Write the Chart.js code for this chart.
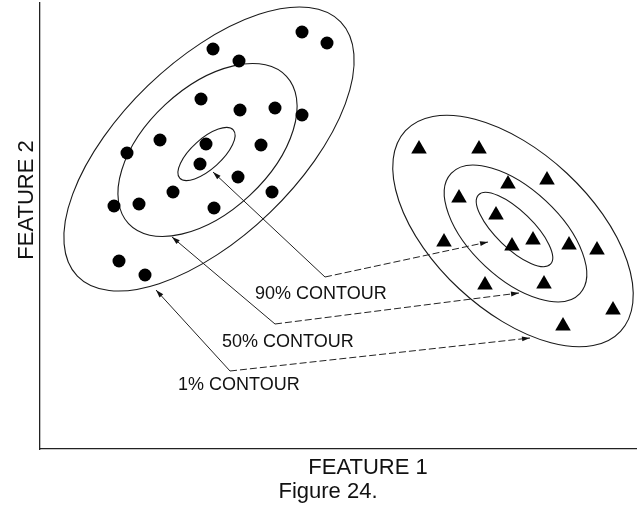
<!DOCTYPE html>
<html>
<head>
<meta charset="utf-8">
<script src="https://cdn.jsdelivr.net/npm/chart.js@4/dist/chart.umd.min.js"></script>
<style>
  html, body { margin: 0; padding: 0; background: #fff; }
  #wrap { width: 638px; height: 506px; }
</style>
</head>
<body>
<div id="wrap"><canvas id="chart" width="638" height="506"></canvas></div>
<script>
// class 1 (circles)
const circleX = [262, 287, 173, 199, 161, 200, 235, 262, 120, 166, 221, 87, 160, 198, 133, 232, 74, 99, 174, 79, 105];
const circleY = [417, 406, 400, 388, 350, 339, 341, 334, 309, 305, 304, 296, 285, 272, 257, 257, 243, 245, 241, 188, 174];

// class 2 (triangles)
const triangleX = [379, 439, 468, 507, 419, 456, 404, 472, 493, 529, 557, 445, 504, 573, 523];
const triangleY = [300, 300, 265, 269, 251, 234, 207, 203, 209, 204, 199, 164, 165, 139, 123];

// contour ellipses: centre, semi-axes, tilt (deg)
const contourX = [169, 167.5, 166.5, 473, 475.5, 474.5];
const contourY = [300, 299, 295, 218, 215.5, 219.5];
const contourA = [183, 108, 36, 147, 88, 50];
const contourB = [88, 62, 15, 79, 44.5, 18.5];
const contourAngle = [-44, -43, -42, 43, 43, 44];

// callout arrows: left tip, elbow, right tip
const arrow90X = [173, 285, 448];
const arrow90Y = [277, 172, 207];
const arrow50X = [132, 235, 479];
const arrow50Y = [212, 125, 156];
const arrow1X = [116, 190, 490];
const arrow1Y = [159, 78, 111];

const labelText = ['90% CONTOUR', '50% CONTOUR', '1% CONTOUR'];
const labelX = [215, 182, 138];
const labelY = [150, 102, 59];

const pts = (xs, ys) => xs.map((v, i) => ({ x: v, y: ys[i] }));

function arrowSet(xs, ys) {
  return {
    data: pts(xs, ys),
    showLine: true,
    pointRadius: 0,
    borderWidth: 1,
    borderColor: '#222',
    segment: { borderDash: (c) => (c.p0DataIndex === 1 ? [7, 3] : []) }
  };
}

function head(ctx, fx, fy, tx, ty) {
  const ang = Math.atan2(ty - fy, tx - fx);
  ctx.save();
  ctx.translate(tx, ty);
  ctx.rotate(ang);
  ctx.beginPath();
  ctx.moveTo(0, 0);
  ctx.lineTo(-8, -2.5);
  ctx.lineTo(-8, 2.5);
  ctx.closePath();
  ctx.fill();
  ctx.restore();
}

const extras = {
  id: 'extras',
  beforeDatasetsDraw(chart) {
    const { ctx, scales: { x, y } } = chart;
    const unit = x.getPixelForValue(1) - x.getPixelForValue(0);
    ctx.save();
    ctx.strokeStyle = '#1a1a1a';
    ctx.lineWidth = 1.1;
    contourX.forEach((cx, i) => {
      ctx.beginPath();
      ctx.ellipse(x.getPixelForValue(cx), y.getPixelForValue(contourY[i]),
        contourA[i] * unit, contourB[i] * unit, contourAngle[i] * Math.PI / 180, 0, Math.PI * 2);
      ctx.stroke();
    });
    ctx.restore();
  },
  afterDatasetsDraw(chart) {
    const { ctx, scales: { x, y } } = chart;
    ctx.save();
    ctx.fillStyle = '#111';
    [[arrow90X, arrow90Y], [arrow50X, arrow50Y], [arrow1X, arrow1Y]].forEach(([xs, ys]) => {
      const px = xs.map((v) => x.getPixelForValue(v));
      const py = ys.map((v) => y.getPixelForValue(v));
      const n = px.length - 1;
      head(ctx, px[1], py[1], px[0], py[0]);
      head(ctx, px[n - 1], py[n - 1], px[n], py[n]);
    });

    ctx.font = '18px "Liberation Sans", Arial, sans-serif';
    ctx.textAlign = 'left';
    ctx.textBaseline = 'alphabetic';
    labelText.forEach((t, i) => {
      ctx.fillText(t, x.getPixelForValue(labelX[i]), y.getPixelForValue(labelY[i]));
    });

    // axis titles and caption
    ctx.font = '22px "Liberation Sans", Arial, sans-serif';
    ctx.textAlign = 'center';
    ctx.fillText('FEATURE 1', 368, 474);
    ctx.fillText('Figure 24.', 328, 498);
    ctx.translate(33, 200);
    ctx.rotate(-Math.PI / 2);
    ctx.fillText('FEATURE 2', 0, 0);
    ctx.restore();
  }
};

new Chart(document.getElementById('chart'), {
  type: 'scatter',
  data: {
    datasets: [
      {
        data: pts(circleX, circleY),
        pointStyle: 'circle',
        pointRadius: 6.5,
        backgroundColor: '#000',
        borderColor: '#000',
        borderWidth: 0
      },
      {
        data: pts(triangleX, triangleY),
        pointStyle: 'triangle',
        pointRadius: 9,
        backgroundColor: '#000',
        borderColor: '#000',
        borderWidth: 0
      },
      arrowSet(arrow90X, arrow90Y),
      arrowSet(arrow50X, arrow50Y),
      arrowSet(arrow1X, arrow1Y)
    ]
  },
  options: {
    responsive: false,
    animation: false,
    devicePixelRatio: 1,
    layout: { autoPadding: false, padding: { top: 3, right: 2, left: 0, bottom: 0 } },
    plugins: { legend: { display: false }, tooltip: { enabled: false } },
    scales: {
      x: {
        type: 'linear',
        min: 0,
        max: 596,
        grid: { display: false },
        ticks: { display: false },
        border: { display: true, color: '#222', width: 1.3 },
        afterFit: (s) => { s.height = 57; }
      },
      y: {
        type: 'linear',
        min: 0,
        max: 446,
        grid: { display: false },
        ticks: { display: false },
        border: { display: true, color: '#222', width: 1.3 },
        afterFit: (s) => { s.width = 40; }
      }
    }
  },
  plugins: [extras]
});
</script>
</body>
</html>
